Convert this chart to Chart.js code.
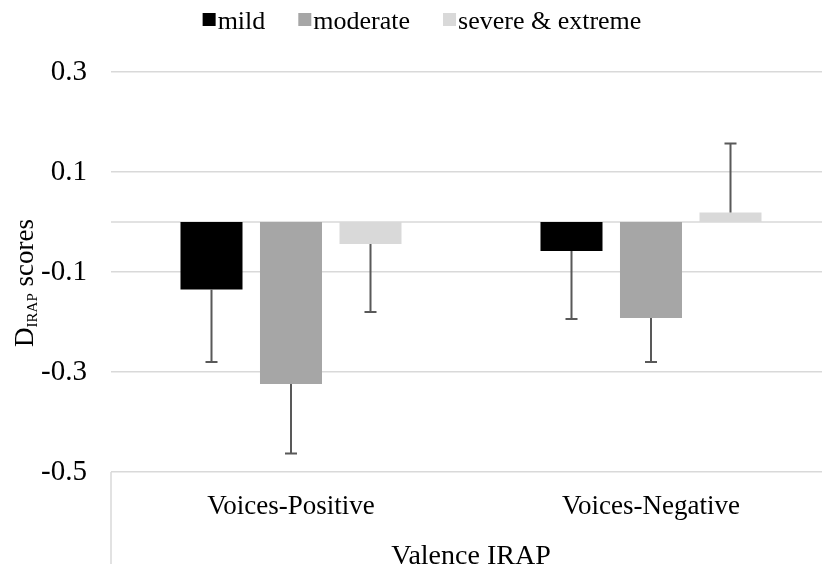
<!DOCTYPE html>
<html>
<head>
<meta charset="utf-8">
<script src="https://cdn.jsdelivr.net/npm/chart.js@4"></script>
<style>
  html, body { margin: 0; padding: 0; background: #fff; overflow: hidden; }
  #wrap { width: 822px; height: 564px; overflow: hidden; }
</style>
</head>
<body>
<div id="wrap">
  <canvas id="chart" width="832" height="580"></canvas>
</div>
<script>
const categories = ['Voices-Positive', 'Voices-Negative'];
const groupNames = ['mild', 'moderate', 'severe & extreme'];
const groupColors = ['#000000', '#a6a6a6', '#d9d9d9'];

// mean D-IRAP scores and their (one-sided) error bars
const mild = [-0.135, -0.058];
const moderate = [-0.324, -0.192];
const severe = [-0.044, 0.019];
const mildErr = [0.145, 0.136];
const moderateErr = [0.139, 0.088];
const severeErr = [0.136, 0.138];

const yTicks = [-0.5, -0.3, -0.1, 0.1, 0.3];

const serif = "'Liberation Serif', 'Times New Roman', serif";
const gridColor = '#d9d9d9';
const fontStr = size => Chart.helpers.toFont({ family: serif, size: size }).string;

// zero line plus the divider lines under the category labels
const axisLines = {
  id: 'axisLines',
  beforeDatasetsDraw(chart) {
    const { ctx, chartArea: a, scales: { y } } = chart;
    const y0 = y.getPixelForValue(0);
    ctx.save();
    ctx.strokeStyle = gridColor;
    ctx.lineWidth = 1.5;
    ctx.beginPath();
    ctx.moveTo(a.left, y0);
    ctx.lineTo(a.right, y0);
    ctx.moveTo(a.left, a.bottom);
    ctx.lineTo(a.left, chart.height);
    ctx.moveTo(a.right, a.bottom);
    ctx.lineTo(a.right, chart.height);
    ctx.stroke();
    ctx.restore();
  }
};

// error bars pointing away from zero
const errorBars = {
  id: 'errorBars',
  afterDatasetsDraw(chart) {
    const { ctx, scales: { y } } = chart;
    ctx.save();
    ctx.strokeStyle = '#595959';
    ctx.lineWidth = 2;
    chart.data.datasets.forEach((ds, i) => {
      chart.getDatasetMeta(i).data.forEach((bar, j) => {
        const v = ds.data[j];
        const end = v + Math.sign(v) * ds.errors[j];
        const y0 = y.getPixelForValue(v);
        const y1 = y.getPixelForValue(end);
        ctx.beginPath();
        ctx.moveTo(bar.x, y0);
        ctx.lineTo(bar.x, y1);
        ctx.moveTo(bar.x - 6, y1);
        ctx.lineTo(bar.x + 6, y1);
        ctx.stroke();
      });
    });
    ctx.restore();
  }
};

// y title with a subscript: D_IRAP scores
const yTitle = {
  id: 'yTitle',
  afterDraw(chart) {
    const { ctx } = chart;
    const big = fontStr(27);
    const small = fontStr(15);
    ctx.save();
    ctx.translate(33, 283);
    ctx.rotate(-Math.PI / 2);
    ctx.fillStyle = '#000';
    ctx.textBaseline = 'alphabetic';
    ctx.textAlign = 'left';
    ctx.font = big;
    const wD = ctx.measureText('D').width;
    const wS = ctx.measureText(' scores').width;
    ctx.font = small;
    const wI = ctx.measureText('IRAP').width;
    let x = -(wD + wI + wS) / 2;
    ctx.font = big;
    ctx.fillText('D', x, 0);
    x += wD;
    ctx.font = small;
    ctx.fillText('IRAP', x, 4);
    x += wI;
    ctx.font = big;
    ctx.fillText(' scores', x, 0);
    ctx.restore();
  }
};

// legend row on top: small square then the label, tight together
const topLegend = {
  id: 'topLegend',
  afterDraw(chart) {
    const { ctx } = chart;
    const box = 13, gap = 2, spacing = 33, centre = 422, base = 29;
    ctx.save();
    ctx.font = fontStr(26);
    ctx.textBaseline = 'alphabetic';
    ctx.textAlign = 'left';
    const items = chart.data.datasets.map(ds => ({
      label: ds.label,
      color: ds.backgroundColor,
      w: box + gap + ctx.measureText(ds.label).width
    }));
    const total = items.reduce((s, it) => s + it.w, 0) + spacing * (items.length - 1);
    let x = centre - total / 2;
    items.forEach(it => {
      ctx.fillStyle = it.color;
      ctx.fillRect(x, base - 16, box, box);
      ctx.fillStyle = '#000';
      ctx.fillText(it.label, x + box + gap, base);
      x += it.w + spacing;
    });
    ctx.restore();
  }
};

const makeSet = (i, data, errors) => ({
  label: groupNames[i],
  data: data,
  errors: errors,
  backgroundColor: groupColors[i],
  borderWidth: 0,
  categoryPercentage: 0.6625,
  barPercentage: 0.78
});

new Chart(document.getElementById('chart'), {
  type: 'bar',
  data: {
    labels: categories,
    datasets: [
      makeSet(0, mild, mildErr),
      makeSet(1, moderate, moderateErr),
      makeSet(2, severe, severeErr)
    ]
  },
  options: {
    responsive: false,
    animation: false,
    layout: { padding: { top: 72, right: 1, bottom: 0, left: 0 } },
    plugins: {
      legend: { display: false },
      tooltip: { enabled: false }
    },
    scales: {
      x: {
        grid: { display: false },
        border: { display: false },
        ticks: { color: '#000', font: { family: serif, size: 27 }, padding: 11 },
        title: {
          display: true,
          text: 'Valence IRAP',
          color: '#000',
          font: { family: serif, size: 28 },
          padding: { top: 0, bottom: 7 }
        },
        afterFit: s => { s.height = 108; }
      },
      y: {
        min: -0.5,
        max: 0.3,
        afterBuildTicks: s => { s.ticks = yTicks.map(v => ({ value: v })); },
        grid: { color: gridColor, lineWidth: 1.5, drawTicks: false },
        border: { display: false },
        ticks: {
          color: '#000',
          font: { family: serif, size: 29 },
          padding: 24,
          callback: v => v.toFixed(1)
        },
        afterFit: s => { s.width = 111; }
      }
    }
  },
  plugins: [axisLines, errorBars, yTitle, topLegend]
});
</script>
</body>
</html>
